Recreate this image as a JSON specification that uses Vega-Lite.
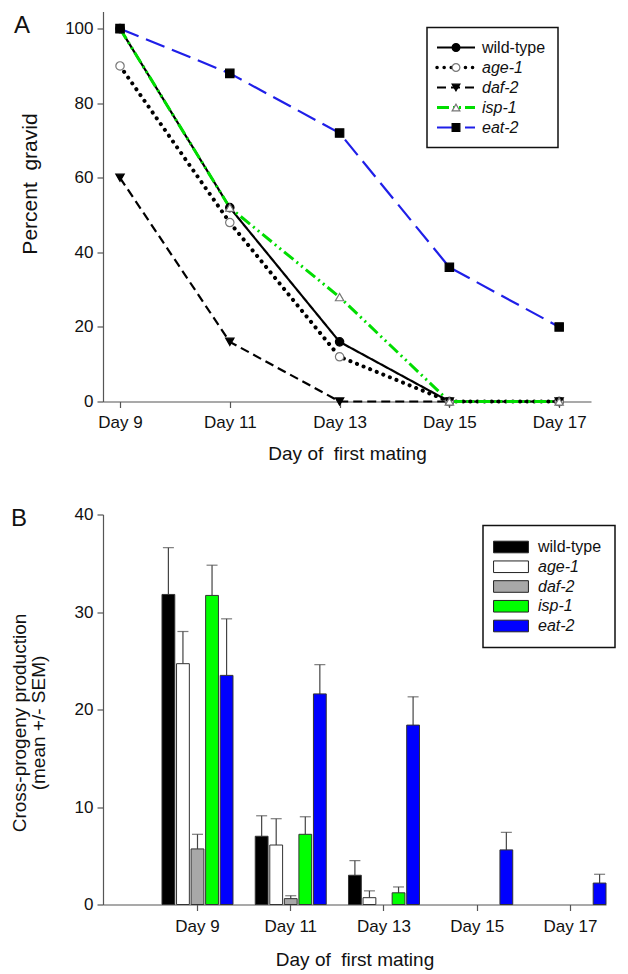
{
  "$schema": "https://vega.github.io/schema/vega-lite/v6.json",
  "background": "white",
  "padding": {"left": 10, "top": 11.5, "right": 5, "bottom": 0},
  "bounds": "flush",
  "spacing": 113,
  "resolve": {
    "scale": {"color": "independent", "fill": "independent", "stroke": "independent", "shape": "independent", "strokeDash": "independent"},
    "legend": {"color": "independent", "fill": "independent", "stroke": "independent", "shape": "independent", "strokeDash": "independent"}
  },
  "config": {
    "font": "Liberation Sans",
    "view": {"stroke": null},
    "axis": {"grid": false, "domainColor": "#555", "tickColor": "#555", "labelColor": "#111", "titleColor": "#111", "labelFont": "Liberation Sans", "titleFont": "Liberation Sans", "titleFontWeight": "normal", "labelFontSize": 17, "tickSize": 6, "domainWidth": 1.2, "tickWidth": 1.2},
    "legend": {"labelFont": "Liberation Sans"},
    "title": {"font": "Liberation Sans", "fontWeight": "normal", "fontSize": 24, "anchor": "start", "frame": "group", "offset": 0, "baseline": "alphabetic", "color": "#111"}
  },
  "datasets": {
    "gravid": [
      {"day": 9, "genotype": "wild-type", "gravid": 100},
      {"day": 11, "genotype": "wild-type", "gravid": 52},
      {"day": 13, "genotype": "wild-type", "gravid": 16},
      {"day": 15, "genotype": "wild-type", "gravid": 0},
      {"day": 17, "genotype": "wild-type", "gravid": 0},
      {"day": 9, "genotype": "age-1", "gravid": 90},
      {"day": 11, "genotype": "age-1", "gravid": 48},
      {"day": 13, "genotype": "age-1", "gravid": 12},
      {"day": 15, "genotype": "age-1", "gravid": 0},
      {"day": 17, "genotype": "age-1", "gravid": 0},
      {"day": 9, "genotype": "daf-2", "gravid": 60},
      {"day": 11, "genotype": "daf-2", "gravid": 16},
      {"day": 13, "genotype": "daf-2", "gravid": 0},
      {"day": 15, "genotype": "daf-2", "gravid": 0},
      {"day": 17, "genotype": "daf-2", "gravid": 0},
      {"day": 9, "genotype": "isp-1", "gravid": 100},
      {"day": 11, "genotype": "isp-1", "gravid": 52},
      {"day": 13, "genotype": "isp-1", "gravid": 28},
      {"day": 15, "genotype": "isp-1", "gravid": 0},
      {"day": 17, "genotype": "isp-1", "gravid": 0},
      {"day": 9, "genotype": "eat-2", "gravid": 100},
      {"day": 11, "genotype": "eat-2", "gravid": 88},
      {"day": 13, "genotype": "eat-2", "gravid": 72},
      {"day": 15, "genotype": "eat-2", "gravid": 36},
      {"day": 17, "genotype": "eat-2", "gravid": 20}
    ],
    "progeny": [
      {"day": "Day 9", "genotype": "wild-type", "mean": 31.8, "upper": 36.6},
      {"day": "Day 9", "genotype": "age-1", "mean": 24.7, "upper": 28.0},
      {"day": "Day 9", "genotype": "daf-2", "mean": 5.7, "upper": 7.2},
      {"day": "Day 9", "genotype": "isp-1", "mean": 31.7, "upper": 34.8},
      {"day": "Day 9", "genotype": "eat-2", "mean": 23.5, "upper": 29.3},
      {"day": "Day 11", "genotype": "wild-type", "mean": 7.0, "upper": 9.1},
      {"day": "Day 11", "genotype": "age-1", "mean": 6.1, "upper": 8.8},
      {"day": "Day 11", "genotype": "daf-2", "mean": 0.6, "upper": 0.9},
      {"day": "Day 11", "genotype": "isp-1", "mean": 7.2, "upper": 9.0},
      {"day": "Day 11", "genotype": "eat-2", "mean": 21.6, "upper": 24.6},
      {"day": "Day 13", "genotype": "wild-type", "mean": 3.0, "upper": 4.5},
      {"day": "Day 13", "genotype": "age-1", "mean": 0.7, "upper": 1.4},
      {"day": "Day 13", "genotype": "isp-1", "mean": 1.2, "upper": 1.8},
      {"day": "Day 13", "genotype": "eat-2", "mean": 18.4, "upper": 21.3},
      {"day": "Day 15", "genotype": "eat-2", "mean": 5.6, "upper": 7.4},
      {"day": "Day 17", "genotype": "eat-2", "mean": 2.2, "upper": 3.1}
    ]
  },
  "vconcat": [
    {
      "width": 488,
      "height": 390,
      "title": {"text": "A", "dx": -89, "dy": 30},
      "data": {"name": "gravid"},
      "layer": [
        {
          "transform": [{"filter": "datum.genotype === 'wild-type' || datum.genotype === 'daf-2' || datum.genotype === 'eat-2'"}],
          "mark": {"type": "line", "strokeWidth": 2.2},
          "encoding": {
            "x": {"field": "day", "type": "quantitative", "scale": {"domain": [8.69, 17.58], "nice": false, "zero": false}, "axis": {"values": [9, 11, 13, 15, 17], "labelExpr": "'Day ' + datum.value", "title": "Day of\u00a0 first mating", "titleFontSize": 19, "labelPadding": 7, "titlePadding": 14}},
            "y": {"field": "gravid", "type": "quantitative", "scale": {"domain": [0, 104.6], "nice": false}, "axis": {"values": [0, 20, 40, 60, 80, 100], "title": "Percent\u00a0 gravid", "titleFontSize": 21, "titleY": 172, "labelPadding": 4, "titlePadding": 24}},
            "color": {"field": "genotype", "type": "nominal", "scale": {"domain": ["wild-type", "age-1", "daf-2", "isp-1", "eat-2"], "range": ["#000000", "#000000", "#000000", "#00dd00", "#1f1fe8"]},
              "legend": {"orient": "none", "legendX": 324, "legendY": 16, "title": null, "padding": 12, "strokeColor": "#111", "fillColor": "white", "labelFontSize": 16, "labelColor": "#111", "rowPadding": 4, "symbolType": "M-3.8,0H3.8", "symbolSize": 100, "symbolOffset": 9, "labelOffset": 18, "symbolStrokeWidth": 2.2, "zindex": 0,
                "encode": {"labels": {"update": {"fontStyle": {"signal": "datum.label === 'wild-type' ? 'normal' : 'italic'"}}}, "symbols": {"update": {"strokeWidth": {"signal": "datum.value === 'age-1' ? 3.5 : datum.value === 'isp-1' ? 3 : 2.2"}, "strokeCap": {"signal": "datum.value === 'age-1' ? 'round' : 'butt'"}}}, "legend": {"update": {"strokeWidth": {"value": 1.5}}}}}},
            "strokeDash": {"field": "genotype", "type": "nominal", "scale": {"domain": ["wild-type", "age-1", "daf-2", "isp-1", "eat-2"], "range": [[1, 0], [0.1, 7], [9, 5], [12, 4, 2, 4, 2, 4], [20, 8]]},
              "legend": {"orient": "none", "legendX": 324, "legendY": 16, "title": null, "padding": 12, "strokeColor": "#111", "fillColor": "white", "labelFontSize": 16, "labelColor": "#111", "rowPadding": 4, "symbolType": "M-3.8,0H3.8", "symbolSize": 100, "symbolOffset": 9, "labelOffset": 18, "symbolStrokeWidth": 2.2, "zindex": 0}}
          }
        },
        {
          "transform": [{"filter": "datum.genotype === 'age-1'"}],
          "mark": {"type": "line", "strokeWidth": 4, "strokeCap": "round"},
          "encoding": {
            "x": {"field": "day", "type": "quantitative", "scale": {"domain": [8.69, 17.58], "nice": false, "zero": false}, "axis": {"values": [9, 11, 13, 15, 17], "labelExpr": "'Day ' + datum.value", "title": "Day of\u00a0 first mating", "titleFontSize": 19, "labelPadding": 7, "titlePadding": 14}},
            "y": {"field": "gravid", "type": "quantitative", "scale": {"domain": [0, 104.6], "nice": false}, "axis": {"values": [0, 20, 40, 60, 80, 100], "title": "Percent\u00a0 gravid", "titleFontSize": 21, "titleY": 172, "labelPadding": 4, "titlePadding": 24}},
            "color": {"field": "genotype", "type": "nominal", "scale": {"domain": ["wild-type", "age-1", "daf-2", "isp-1", "eat-2"], "range": ["#000000", "#000000", "#000000", "#00dd00", "#1f1fe8"]}},
            "strokeDash": {"field": "genotype", "type": "nominal", "scale": {"domain": ["wild-type", "age-1", "daf-2", "isp-1", "eat-2"], "range": [[1, 0], [0.1, 7], [9, 5], [12, 4, 2, 4, 2, 4], [20, 8]]}}
          }
        },
        {
          "transform": [{"filter": "datum.genotype === 'isp-1'"}],
          "mark": {"type": "line", "strokeWidth": 3},
          "encoding": {
            "x": {"field": "day", "type": "quantitative", "scale": {"domain": [8.69, 17.58], "nice": false, "zero": false}, "axis": {"values": [9, 11, 13, 15, 17], "labelExpr": "'Day ' + datum.value", "title": "Day of\u00a0 first mating", "titleFontSize": 19, "labelPadding": 7, "titlePadding": 14}},
            "y": {"field": "gravid", "type": "quantitative", "scale": {"domain": [0, 104.6], "nice": false}, "axis": {"values": [0, 20, 40, 60, 80, 100], "title": "Percent\u00a0 gravid", "titleFontSize": 21, "titleY": 172, "labelPadding": 4, "titlePadding": 24}},
            "color": {"field": "genotype", "type": "nominal", "scale": {"domain": ["wild-type", "age-1", "daf-2", "isp-1", "eat-2"], "range": ["#000000", "#000000", "#000000", "#00dd00", "#1f1fe8"]}},
            "strokeDash": {"field": "genotype", "type": "nominal", "scale": {"domain": ["wild-type", "age-1", "daf-2", "isp-1", "eat-2"], "range": [[1, 0], [0.1, 7], [9, 5], [12, 4, 2, 4, 2, 4], [20, 8]]}}
          }
        },
        {
          "mark": {"type": "point", "size": 70, "strokeWidth": 1.2, "opacity": 1},
          "encoding": {
            "x": {"field": "day", "type": "quantitative", "scale": {"domain": [8.69, 17.58], "nice": false, "zero": false}, "axis": {"values": [9, 11, 13, 15, 17], "labelExpr": "'Day ' + datum.value", "title": "Day of\u00a0 first mating", "titleFontSize": 19, "labelPadding": 7, "titlePadding": 14}},
            "y": {"field": "gravid", "type": "quantitative", "scale": {"domain": [0, 104.6], "nice": false}, "axis": {"values": [0, 20, 40, 60, 80, 100], "title": "Percent\u00a0 gravid", "titleFontSize": 21, "titleY": 172, "labelPadding": 4, "titlePadding": 24}},
            "shape": {"field": "genotype", "type": "nominal", "scale": {"domain": ["eat-2", "isp-1", "daf-2", "age-1", "wild-type"], "range": ["square", "triangle-up", "triangle-down", "circle", "circle"]},
              "legend": {"orient": "none", "legendX": 324, "legendY": 16, "title": null, "padding": 12, "labelFontSize": 16, "labelOpacity": 0, "rowPadding": 4, "symbolSize": 60, "symbolOffset": 9, "labelOffset": 18, "symbolStrokeWidth": 1.2, "values": ["wild-type", "age-1", "daf-2", "isp-1", "eat-2"], "zindex": 1}},
            "fill": {"field": "genotype", "type": "nominal", "scale": {"domain": ["eat-2", "isp-1", "daf-2", "age-1", "wild-type"], "range": ["#000000", "#ffffff", "#000000", "#ffffff", "#000000"]},
              "legend": {"orient": "none", "legendX": 324, "legendY": 16, "title": null, "padding": 12, "labelFontSize": 16, "labelOpacity": 0, "rowPadding": 4, "symbolSize": 60, "symbolOffset": 9, "labelOffset": 18, "symbolStrokeWidth": 1.2, "values": ["wild-type", "age-1", "daf-2", "isp-1", "eat-2"], "zindex": 1}},
            "stroke": {"field": "genotype", "type": "nominal", "scale": {"domain": ["eat-2", "isp-1", "daf-2", "age-1", "wild-type"], "range": ["#000000", "#777777", "#000000", "#777777", "#000000"]},
              "legend": {"orient": "none", "legendX": 324, "legendY": 16, "title": null, "padding": 12, "labelFontSize": 16, "labelOpacity": 0, "rowPadding": 4, "symbolSize": 60, "symbolOffset": 9, "labelOffset": 18, "symbolStrokeWidth": 1.2, "values": ["wild-type", "age-1", "daf-2", "isp-1", "eat-2"], "zindex": 1}}
          }
        }
      ]
    },
    {
      "width": 503,
      "height": 390,
      "title": {"text": "B", "dx": -92, "dy": 29},
      "data": {"name": "progeny"},
      "encoding": {
        "x": {"field": "day", "type": "nominal", "sort": ["Day 9", "Day 11", "Day 13", "Day 15", "Day 17"], "scale": {"domain": ["Day 9", "Day 11", "Day 13", "Day 15", "Day 17"], "paddingInner": 0.2386, "paddingOuter": 0.3163, "align": 1}, "axis": {"labelAngle": 0, "title": "Day of\u00a0 first mating", "titleFontSize": 19, "labelPadding": 8, "titlePadding": 16}},
        "xOffset": {"field": "genotype", "type": "nominal", "scale": {"domain": ["wild-type", "age-1", "daf-2", "isp-1", "eat-2"], "paddingInner": 0.12}}
      },
      "layer": [
        {
          "mark": {"type": "rule", "color": "#444", "strokeWidth": 1.2},
          "encoding": {
            "y": {"field": "mean", "type": "quantitative", "scale": {"domain": [0, 40], "nice": false}, "axis": {"values": [0, 10, 20, 30, 40], "title": ["Cross-progeny production", "(mean +/- SEM)"], "titleFontSize": 19, "titleLineHeight": 19, "titleY": 208, "labelPadding": 4, "titlePadding": 26}},
            "y2": {"field": "upper"}
          }
        },
        {
          "mark": {"type": "tick", "color": "#444", "size": 11, "thickness": 1.2},
          "encoding": {
            "y": {"field": "upper", "type": "quantitative", "scale": {"domain": [0, 40], "nice": false}, "axis": {"values": [0, 10, 20, 30, 40], "title": ["Cross-progeny production", "(mean +/- SEM)"], "titleFontSize": 19, "titleLineHeight": 19, "titleY": 208, "labelPadding": 4, "titlePadding": 26}}
          }
        },
        {
          "mark": {"type": "bar", "stroke": "#333", "strokeWidth": 1},
          "encoding": {
            "y": {"field": "mean", "type": "quantitative", "scale": {"domain": [0, 40], "nice": false}, "axis": {"values": [0, 10, 20, 30, 40], "title": ["Cross-progeny production", "(mean +/- SEM)"], "titleFontSize": 19, "titleLineHeight": 19, "titleY": 208, "labelPadding": 4, "titlePadding": 26}},
            "fill": {"field": "genotype", "type": "nominal", "scale": {"domain": ["wild-type", "age-1", "daf-2", "isp-1", "eat-2"], "range": ["#000000", "#ffffff", "#a8a8a8", "#00ff00", "#0000ff"]},
              "legend": {"orient": "none", "legendX": 380, "legendY": 11, "title": null, "padding": 13.5, "strokeColor": "#111", "fillColor": "white", "labelFontSize": 16, "labelColor": "#111", "rowPadding": 3.75, "symbolType": "M-3,-1H3V1H-3Z", "symbolSize": 135, "symbolOffset": 6.5, "labelOffset": 19, "symbolStrokeColor": "#222", "symbolStrokeWidth": 1,
                "encode": {"labels": {"update": {"fontStyle": {"signal": "datum.label === 'wild-type' ? 'normal' : 'italic'"}}}, "legend": {"update": {"strokeWidth": {"value": 1.5}}}}}}
          }
        }
      ]
    }
  ]
}
